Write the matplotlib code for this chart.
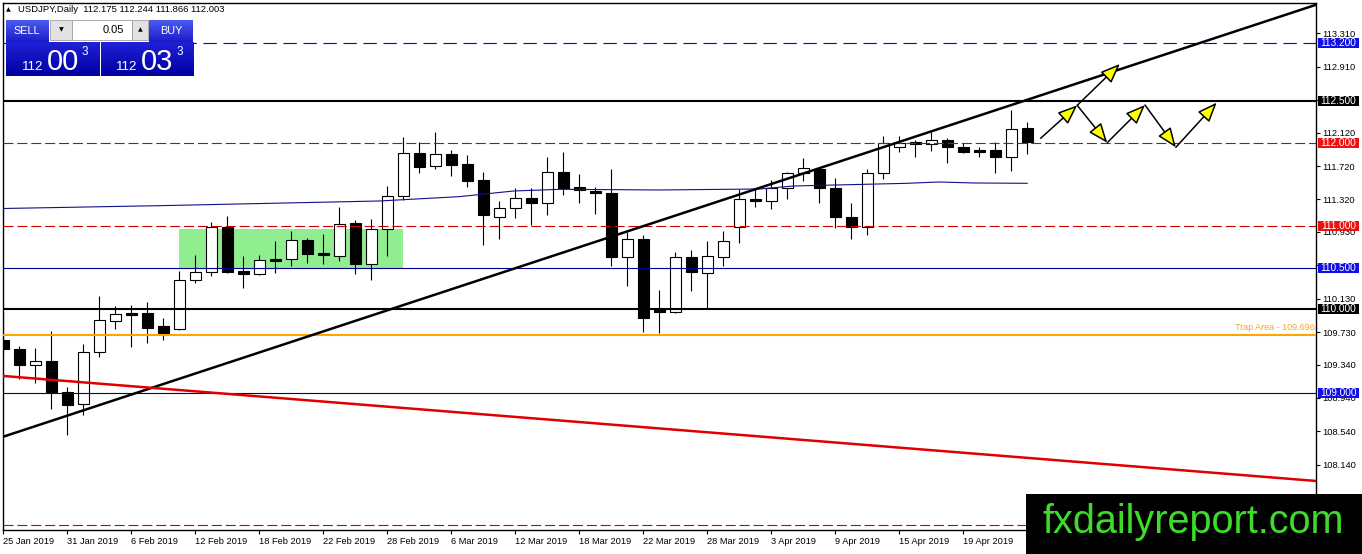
import numpy as np
import matplotlib
matplotlib.use("Agg")
import matplotlib.pyplot as plt
from matplotlib.patches import Rectangle, FancyArrowPatch
from matplotlib.colors import LinearSegmentedColormap
from matplotlib.transforms import blended_transform_factory

plt.rcParams["font.family"] = ["Liberation Sans", "DejaVu Sans"]

# daily USDJPY candles, 25 Jan 2019 .. 25 Apr 2019 (bar index 0..64)
opens = [109.634, 109.523, 109.331, 109.382, 109.014, 108.863, 109.487, 109.859, 109.954, 109.954,
         109.802, 109.763, 110.350, 110.453, 110.986, 110.462, 110.429, 110.606, 110.602, 110.830,
         110.674, 110.638, 111.034, 110.549, 110.962, 111.357, 111.873, 111.717, 111.864, 111.745,
         111.549, 111.106, 111.213, 111.333, 111.273, 111.645, 111.465, 111.424, 111.400, 110.626,
         110.845, 109.994, 109.974, 110.626, 110.441, 110.626, 110.993, 111.325, 111.297, 111.453,
         111.633, 111.685, 111.453, 111.106, 110.986, 111.633, 111.945, 112.008, 111.981, 112.032,
         111.952, 111.912, 111.912, 111.832, 112.175]
highs = [109.954, 109.562, 109.538, 109.739, 109.067, 109.586, 110.162, 110.042, 110.054, 110.090,
         109.898, 110.462, 110.653, 111.053, 111.121, 110.645, 110.653, 110.821, 110.941, 110.854,
         110.905, 111.225, 111.073, 111.082, 111.477, 112.065, 112.005, 112.125, 111.912, 111.853,
         111.645, 111.301, 111.453, 111.453, 111.825, 111.885, 111.625, 111.472, 111.685, 110.933,
         110.893, 110.234, 110.686, 110.713, 110.821, 110.945, 111.445, 111.441, 111.553, 111.652,
         111.813, 111.712, 111.573, 111.273, 111.681, 112.080, 112.080, 112.032, 112.132, 112.053,
         111.993, 111.952, 112.012, 112.392, 112.244]
lows = [109.442, 109.163, 109.122, 108.811, 108.499, 108.731, 109.434, 109.770, 109.554, 109.602,
        109.634, 109.750, 110.321, 110.405, 110.441, 110.254, 110.410, 110.438, 110.525, 110.561,
        110.549, 110.578, 110.422, 110.350, 110.645, 111.309, 111.633, 111.688, 111.604, 111.472,
        110.777, 110.849, 111.101, 111.013, 111.137, 111.376, 111.281, 111.145, 110.522, 110.285,
        109.734, 109.715, 109.960, 110.225, 110.002, 110.522, 110.801, 111.233, 111.201, 111.329,
        111.544, 111.273, 110.974, 110.842, 110.893, 111.565, 111.885, 111.832, 111.904, 111.753,
        111.873, 111.832, 111.640, 111.664, 111.866]
closes = [109.523, 109.331, 109.379, 109.014, 108.859, 109.490, 109.870, 109.942, 109.938, 109.782,
          109.722, 110.350, 110.453, 110.986, 110.453, 110.429, 110.590, 110.585, 110.830, 110.669,
          110.657, 111.029, 110.549, 110.962, 111.357, 111.873, 111.712, 111.864, 111.736, 111.544,
          111.137, 111.213, 111.333, 111.273, 111.645, 111.453, 111.433, 111.393, 110.633, 110.845,
          109.894, 109.966, 110.626, 110.453, 110.638, 110.818, 111.325, 111.301, 111.453, 111.633,
          111.693, 111.453, 111.106, 110.993, 111.633, 111.993, 111.993, 111.984, 112.029, 111.952,
          111.885, 111.892, 111.832, 112.161, 112.003]

date_idx = [0, 4, 8, 12, 16, 20, 24, 28, 32, 36, 40, 44, 48, 52, 56, 60]
date_labels = ["25 Jan 2019", "31 Jan 2019", "6 Feb 2019", "12 Feb 2019", "18 Feb 2019",
               "22 Feb 2019", "28 Feb 2019", "6 Mar 2019", "12 Mar 2019", "18 Mar 2019",
               "22 Mar 2019", "28 Mar 2019", "3 Apr 2019", "9 Apr 2019", "15 Apr 2019",
               "19 Apr 2019"]
price_ticks = [113.310, 112.910, 112.510, 112.120, 111.720, 111.320, 110.930, 110.530,
               110.130, 109.730, 109.340, 108.940, 108.540, 108.140, 107.750]

# horizontal levels drawn on the chart
level_blue_dash = 113.200
level_black = [112.500, 110.000]
level_red_dash = [112.000, 111.000, 107.420]
level_blue = [110.500, 109.000]
trap_level = 109.696

# labelled levels on the price scale: (price, colour)
scale_boxes = [(113.200, "#1010e6"), (112.500, "black"), (112.000, "#ee1111"),
               (111.000, "#ee1111"), (110.500, "#1010e6"), (110.000, "black"),
               (109.000, "#1010e6")]

# trend lines (bar index, price)
up_trend_x = [0.0, 82.2]
up_trend_y = [108.475, 113.663]
down_trend_x = [0.0, 82.05]
down_trend_y = [109.203, 107.944]

# slow moving average
ma_x = [0, 9.8, 23.5, 28.5, 31.9, 34.8, 41.0, 47.3, 49.4, 56.5, 58.5, 60.6, 64]
ma_y = [111.211, 111.245, 111.301, 111.353, 111.421, 111.441, 111.433, 111.445, 111.481,
        111.513, 111.529, 111.517, 111.513]

# consolidation box
box_x = [11, 25]
box_y = [110.494, 110.962]

# projected path arrows: start -> end
arrow_x0 = [64.84, 67.125, 67.125, 69.0, 71.36, 73.29]
arrow_y0 = [112.053, 112.448, 112.448, 112.000, 112.452, 111.945]
arrow_x1 = [67.125, 69.79, 69.0, 71.36, 73.29, 75.84]
arrow_y1 = [112.448, 112.944, 112.000, 112.452, 111.945, 112.480]

W, H = 1362, 554
fig = plt.figure(figsize=(W / 100, H / 100), dpi=100)
ax = fig.add_axes([3 / W, 1 - 530 / H, 1313 / W, 527 / H])
ax.set_xlim(-0.02, 82.05)
ax.set_ylim(107.356, 113.675)

# consolidation box
ax.add_patch(Rectangle((box_x[0], box_y[0]), box_x[1] - box_x[0], box_y[1] - box_y[0],
                       facecolor="#90ee90", edgecolor="none", zorder=1))

# candles
bw = 0.67
for i, (o, h, l, c) in enumerate(zip(opens, highs, lows, closes)):
    ax.vlines(i, l, h, color="black", lw=0.8, zorder=3)
    lo, hi = min(o, c), max(o, c)
    ax.add_patch(Rectangle((i - bw / 2, lo), bw, max(hi - lo, 0.004),
                           facecolor="white" if c >= o else "black",
                           edgecolor="black", lw=0.8, zorder=4))

# levels
ax.axhline(level_blue_dash, color="#0000e0", lw=0.8, dashes=(12, 6), zorder=5)
for lv in level_black:
    ax.axhline(lv, color="black", lw=1.5, zorder=5)
for lv in level_red_dash:
    ax.axhline(lv, color="#d00000", lw=0.8, dashes=(9, 3.5), zorder=5)
for lv in level_blue:
    ax.axhline(lv, color="#000090", lw=0.8, zorder=5)
ax.axhline(trap_level, color="#ffa500", lw=1.5, zorder=5)
ax.text(81.95, trap_level + 0.035, "Trap Area - 109.696", color="#f5a623",
        fontsize=6.5, ha="right", va="bottom", zorder=6)

ax.plot(ma_x, ma_y, color="#10108a", lw=0.8, zorder=5)
ax.plot(up_trend_x, up_trend_y, color="black", lw=1.8, zorder=6)
ax.plot(down_trend_x, down_trend_y, color="#e00000", lw=1.8, zorder=6)

for x0, y0, x1, y1 in zip(arrow_x0, arrow_y0, arrow_x1, arrow_y1):
    ax.add_patch(FancyArrowPatch((x0, y0), (x1, y1),
                                 arrowstyle="-|>,head_length=1.0,head_width=0.4",
                                 mutation_scale=12, lw=1.1, edgecolor="black",
                                 facecolor="#ffff00", shrinkA=0, shrinkB=0, zorder=7))

# axes look
for s in ax.spines.values():
    s.set_color("black")
    s.set_linewidth(1.0)
ax.yaxis.tick_right()
ax.set_yticks(price_ticks)
ax.set_yticklabels([f"{t:.3f}" for t in price_ticks])
ax.set_xticks(date_idx)
ax.set_xticklabels(date_labels, ha="left")
ax.tick_params(axis="y", direction="out", length=3, width=0.8, pad=1.5, labelsize=6.7)
ax.tick_params(axis="x", direction="out", length=3, width=0.8, pad=2, labelsize=6.7)

# labelled levels on the price scale
tr = blended_transform_factory(ax.transAxes, ax.transData)
bx0, bwid, bh = 1.0015, 0.0312, 0.12
for lv, col in scale_boxes:
    ax.add_patch(Rectangle((bx0, lv - bh / 2), bwid, bh, transform=tr, facecolor=col,
                           edgecolor="none", clip_on=False, zorder=8))
    ax.text(bx0 + bwid / 2, lv, f"{lv:.3f}", transform=tr, color="white", fontsize=7.3,
            ha="center", va="center", clip_on=False, zorder=9)


# trading panel, top-left
def px(x, y):
    return x / W, 1 - y / H


def gradient_box(x0, y0, x1, y1, top, bottom):
    a = fig.add_axes([x0 / W, 1 - y1 / H, (x1 - x0) / W, (y1 - y0) / H])
    cmap = LinearSegmentedColormap.from_list("btn", [top, bottom])
    a.imshow(np.linspace(0, 1, 32).reshape(-1, 1), aspect="auto", cmap=cmap,
             extent=[0, 1, 0, 1])
    a.axis("off")
    return a


gradient_box(6, 20, 49, 43, "#4a5af0", "#1a1ac8")
gradient_box(149, 20, 193, 43, "#4a5af0", "#1a1ac8")
gradient_box(6, 42, 99, 76, "#2020d8", "#0000a0")
gradient_box(101, 42, 193, 76, "#2020d8", "#0000a0")

for x0, x1, fc in [(50, 72, "#e2e2e2"), (72, 132, "white"), (132, 148, "#e2e2e2")]:
    fig.patches.append(Rectangle(px(x0, 40), (x1 - x0) / W, 20 / H, transform=fig.transFigure,
                                 facecolor=fc, edgecolor="#a0a0a0", lw=0.6))
fig.text(*px(61, 30), "▼", fontsize=4.5, ha="center", va="center", family="DejaVu Sans")
fig.text(*px(140, 30), "▲", fontsize=4.5, ha="center", va="center", family="DejaVu Sans")
fig.text(*px(124, 30), "0.05", fontsize=8, ha="right", va="center", color="black")
fig.text(*px(27, 31), "SELL", fontsize=7.8, ha="center", va="center", color="white")
fig.text(*px(171, 31), "BUY", fontsize=7.8, ha="center", va="center", color="white")

for x_small, x_big, x_sup, big in [(22, 47, 82, "00"), (116, 141, 177, "03")]:
    fig.text(*px(x_small, 70), "112", fontsize=9.5, color="white", va="baseline")
    fig.text(*px(x_big, 69.5), big, fontsize=21, color="white", va="baseline")
    fig.text(*px(x_sup, 55), "3", fontsize=8.5, color="white", va="baseline")

fig.text(*px(6, 10), "▲", fontsize=4.5, va="center", family="DejaVu Sans")
fig.text(*px(18, 10), "USDJPY,Daily  112.175 112.244 111.866 112.003", fontsize=6.8,
         va="center", color="black")

# watermark
fig.patches.append(Rectangle(px(1026, 554), (W - 1026) / W, 60 / H, transform=fig.transFigure,
                             facecolor="black", edgecolor="none"))
fig.text(*px(1193, 533), "fxdailyreport.com", fontsize=28.5, color="#3ddc2a",
         ha="center", va="baseline", family="Liberation Sans")

fig.savefig("out.png", dpi=100)
